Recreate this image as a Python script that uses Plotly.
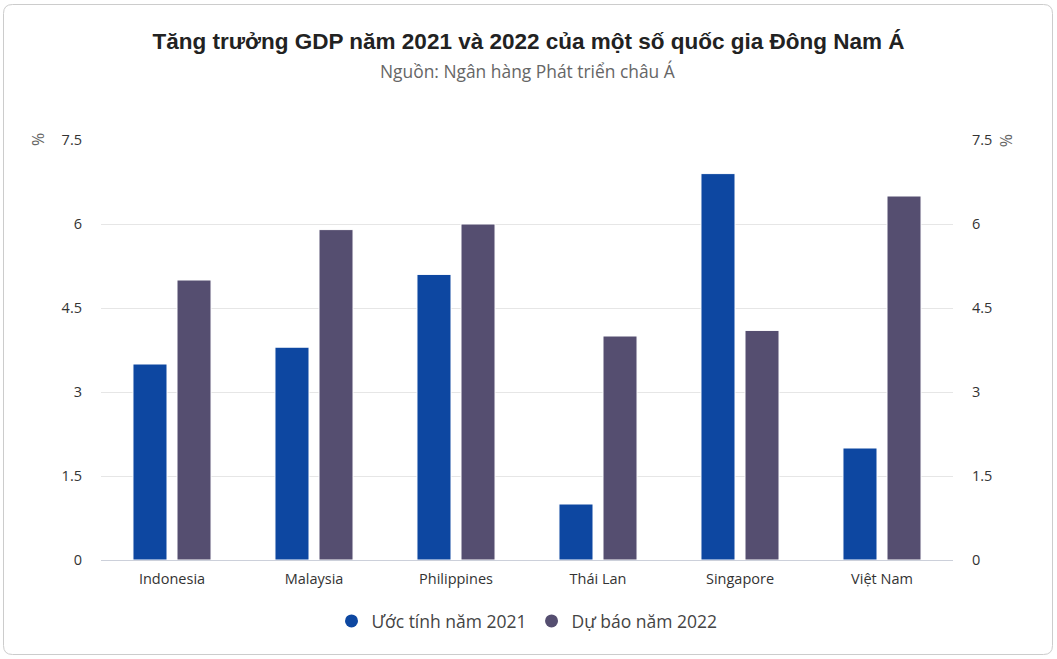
import plotly.graph_objects as go

categories = ["Indonesia", "Malaysia", "Philippines", "Thái Lan", "Singapore", "Việt Nam"]
est_2021 = [3.5, 3.8, 5.1, 1.0, 6.9, 2.0]
fc_2022 = [5.0, 5.9, 6.0, 4.0, 4.1, 6.5]
series_names = ["Ước tính năm 2021", "Dự báo năm 2022"]
y_ticks = [0, 1.5, 3, 4.5, 6, 7.5]
y_tick_text = ["0", "1.5", "3", "4.5", "6", "7.5"]

W, H = 1057, 659
ML, MR, MT, MB = 101, 104, 140, 99
PW, PH = W - ML - MR, H - MT - MB

BLUE = "#0d47a1"
PURPLE = "#554e70"
FONT = "Open Sans"


def px(x):
    return (x - ML) / PW


def py(y):
    return (H - MB - y) / PH


fig = go.Figure()
fig.add_trace(go.Bar(x=categories, y=est_2021, name=series_names[0], marker=dict(color=BLUE, line=dict(color="white", width=1)), showlegend=False))
fig.add_trace(go.Bar(x=categories, y=fc_2022, name=series_names[1], marker=dict(color=PURPLE, line=dict(color="white", width=1)), showlegend=False))
# legend entries with circle symbols
fig.add_trace(go.Scatter(x=[categories[0]], y=[None], mode="markers", name=series_names[0], marker=dict(color=BLUE, size=13, symbol="circle")))
fig.add_trace(go.Scatter(x=[categories[0]], y=[None], mode="markers", name=series_names[1], marker=dict(color=PURPLE, size=13, symbol="circle")))
# right axis carrier
fig.add_trace(go.Scatter(x=[categories[0]], y=[None], yaxis="y2", showlegend=False, hoverinfo="skip"))

# rounded border
x0, y0, x1, y1, r = 3.5, 4.5, 1052.5, 654.5, 9
path = (
    f"M {px(x0+r)},{py(y0)} L {px(x1-r)},{py(y0)} "
    f"Q {px(x1)},{py(y0)} {px(x1)},{py(y0+r)} "
    f"L {px(x1)},{py(y1-r)} Q {px(x1)},{py(y1)} {px(x1-r)},{py(y1)} "
    f"L {px(x0+r)},{py(y1)} Q {px(x0)},{py(y1)} {px(x0)},{py(y1-r)} "
    f"L {px(x0)},{py(y0+r)} Q {px(x0)},{py(y0)} {px(x0+r)},{py(y0)} Z"
)

fig.update_layout(
    width=W,
    height=H,
    margin=dict(l=ML, r=MR, t=MT, b=MB),
    paper_bgcolor="white",
    plot_bgcolor="white",
    barmode="group",
    bargap=0.38,
    bargroupgap=0.227,
    font=dict(family=FONT, color="#333333", size=14.5),
    title=dict(
        text="<b>Tăng trưởng GDP năm 2021 và 2022 của một số quốc gia Đông Nam Á</b>",
        x=0.5, xref="container", xanchor="center",
        y=1 - 41 / H, yref="container", yanchor="middle",
        font=dict(family="Liberation Sans, Arial", size=22.5, color="#222222"),
    ),
    xaxis=dict(
        showgrid=False,
        showline=True, linecolor="#ccd0da", linewidth=1,
        ticks="", tickfont=dict(size=14.5, color="#333333"),
        ticklabelstandoff=6,
        fixedrange=True,
    ),
    yaxis=dict(
        range=[0, 7.5],
        tickvals=y_ticks, ticktext=y_tick_text,
        showgrid=True, gridcolor="#e6e6e6", gridwidth=1,
        zeroline=False, showline=False, ticks="",
        ticklabelstandoff=18,
        tickfont=dict(size=14.5, color="#333333"),
    ),
    yaxis2=dict(
        range=[0, 7.5], overlaying="y", side="right",
        tickvals=y_ticks, ticktext=y_tick_text,
        showgrid=False, zeroline=False, showline=False, ticks="",
        ticklabelstandoff=18,
        tickfont=dict(size=14.5, color="#333333"),
    ),
    legend=dict(
        orientation="h", x=0.5, xanchor="center",
        y=py(621), yanchor="middle",
        font=dict(size=17.5, color="#444444"),
        itemwidth=30, tracegroupgap=0,
    ),
    shapes=[dict(type="path", path=path, xref="paper", yref="paper",
                 line=dict(color="#cccccc", width=1), fillcolor="rgba(0,0,0,0)", layer="below")],
    annotations=[
        dict(text="Nguồn: Ngân hàng Phát triển châu Á", x=0.5, xref="paper", y=py(71), yref="paper",
             showarrow=False, xanchor="center", yanchor="middle", font=dict(size=17.4, color="#666666")),
        dict(text="%", x=px(38), xref="paper", y=py(140), yref="paper", showarrow=False,
             textangle=-90, xanchor="center", yanchor="middle", font=dict(size=16, color="#666666")),
        dict(text="%", x=px(1006), xref="paper", y=py(140), yref="paper", showarrow=False,
             textangle=90, xanchor="center", yanchor="middle", font=dict(size=16, color="#666666")),
    ],
)

fig.write_html(
    "out.html",
    config={"displayModeBar": False},
    post_script="document.body.style.margin='0';document.body.style.overflow='hidden';",
)
